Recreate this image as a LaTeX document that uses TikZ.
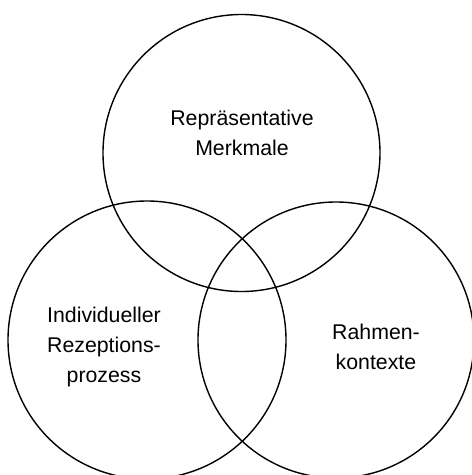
\documentclass[tikz,border=0pt]{standalone}
\usepackage{fontspec}
\setmainfont{Liberation Sans}
\begin{document}
\begin{tikzpicture}[x=1pt,y=-1pt,
  ring/.style={draw=black,line width=1.4pt},
  lbl/.style={align=center,font=\fontsize{21.3}{30}\selectfont,inner sep=0pt}]
\useasboundingbox (0,0) rectangle (472,475);
\begin{scope}
\clip (0,0) rectangle (472,475);
\draw[ring] (241.5,153) circle[radius=138.5] coordinate (ctop);
\draw[ring] (147,340) circle[radius=139] coordinate (cleft);
\draw[ring] (336,340) circle[radius=138] coordinate (cright);
\end{scope}
\node[lbl] (top) at (242,133) {Repräsentative\\Merkmale};
\node[lbl] (left) at (104,347) {Individueller\\Rezeptions-\\prozess};
\node[lbl] (right) at (376,347) {Rahmen-\\kontexte};
\end{tikzpicture}
\end{document}
